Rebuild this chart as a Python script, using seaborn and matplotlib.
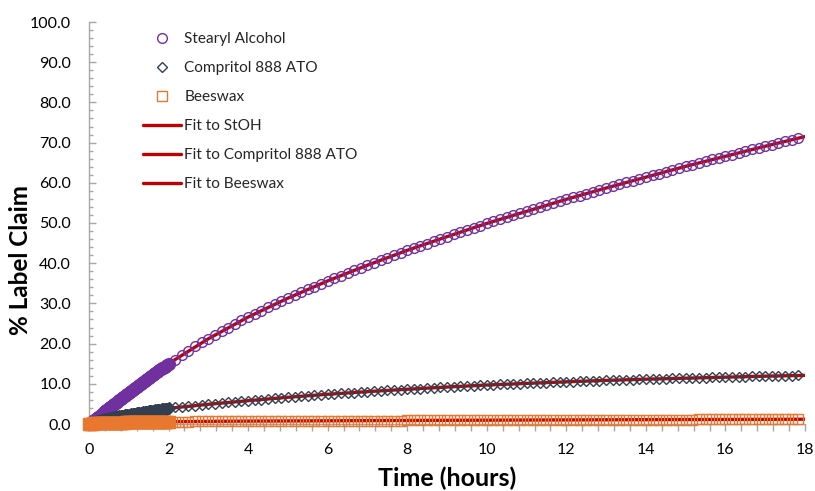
import numpy as np
import pandas as pd
import matplotlib
matplotlib.use("Agg")
import matplotlib.pyplot as plt
import seaborn as sns
from matplotlib.ticker import MultipleLocator, FormatStrFormatter

# ---------------- data ----------------
# early sampling: every 2 minutes from 0 to 2 h
t_early_min = np.arange(0, 121, 2)
# later sampling: every 10 minutes from 2 h 10 min to 17 h 50 min
t_late_min = np.arange(130, 1071, 10)
# fit curves evaluated hourly
t_fit_h = np.arange(0, 19)

stoh_early = [0.00, 0.26, 0.53, 0.79, 1.05, 1.31, 1.57, 1.83, 2.09, 2.35, 2.61, 2.87, 3.13,
              3.39, 3.64, 3.90, 4.16, 4.41, 4.67, 4.92, 5.18, 5.43, 5.69, 5.94, 6.19, 6.44,
              6.70, 6.95, 7.20, 7.45, 7.70, 7.95, 8.20, 8.45, 8.70, 8.94, 9.19, 9.44, 9.69,
              9.93, 10.18, 10.42, 10.67, 10.91, 11.16, 11.40, 11.64, 11.89, 12.13, 12.37,
              12.61, 12.85, 13.09, 13.33, 13.57, 13.81, 14.05, 14.29, 14.53, 14.76, 15.00]
stoh_late = [16.0, 17.2, 18.2, 19.3, 20.3, 21.2, 22.2, 23.1, 24.0, 24.9,
             25.8, 26.6, 27.4, 28.2, 29.0, 29.8, 30.6, 31.3, 32.1, 32.8,
             33.5, 34.2, 34.9, 35.6, 36.3, 36.9, 37.6, 38.2, 38.9, 39.5,
             40.1, 40.8, 41.4, 42.0, 42.6, 43.2, 43.8, 44.3, 44.9, 45.5,
             46.0, 46.6, 47.2, 47.7, 48.2, 48.8, 49.3, 49.9, 50.4, 50.9,
             51.4, 51.9, 52.4, 52.9, 53.4, 53.9, 54.4, 54.9, 55.4, 55.9,
             56.4, 56.8, 57.3, 57.8, 58.3, 58.7, 59.2, 59.6, 60.1, 60.5,
             61.0, 61.4, 61.9, 62.3, 62.8, 63.2, 63.6, 64.1, 64.5, 64.9,
             65.3, 65.8, 66.2, 66.6, 67.0, 67.4, 67.8, 68.3, 68.7, 69.1,
             69.5, 69.9, 70.3, 70.7, 71.1]

comp_early = [0.00, 0.18, 0.30, 0.41, 0.51, 0.60, 0.69, 0.77, 0.85, 0.93, 1.01, 1.09, 1.16,
              1.23, 1.30, 1.37, 1.44, 1.51, 1.57, 1.64, 1.70, 1.76, 1.82, 1.89, 1.95, 2.01,
              2.07, 2.13, 2.18, 2.24, 2.30, 2.36, 2.41, 2.47, 2.53, 2.59, 2.64, 2.70, 2.75,
              2.80, 2.85, 2.91, 2.96, 3.02, 3.07, 3.12, 3.17, 3.22, 3.27, 3.32, 3.37, 3.42,
              3.47, 3.52, 3.57, 3.62, 3.67, 3.72, 3.77, 3.82, 3.87]
comp_late = [4.11, 4.27, 4.43, 4.58, 4.74, 4.90,
             5.05, 5.20, 5.35, 5.50, 5.65, 5.80,
             5.94, 6.08, 6.23, 6.37, 6.51, 6.65,
             6.78, 6.90, 7.03, 7.15, 7.28, 7.40,
             7.51, 7.62, 7.73, 7.83, 7.94, 8.05,
             8.15, 8.25, 8.35, 8.45, 8.55, 8.65,
             8.74, 8.83, 8.93, 9.02, 9.11, 9.20,
             9.28, 9.37, 9.45, 9.53, 9.62, 9.70,
             9.77, 9.83, 9.90, 9.97, 10.03, 10.10,
             10.17, 10.23, 10.30, 10.37, 10.43, 10.50,
             10.56, 10.62, 10.68, 10.73, 10.79, 10.85,
             10.90, 10.95, 11.00, 11.05, 11.10, 11.15,
             11.19, 11.23, 11.28, 11.32, 11.36, 11.40,
             11.44, 11.48, 11.53, 11.57, 11.61, 11.65,
             11.69, 11.73, 11.78, 11.82, 11.86, 11.90,
             11.93, 11.97, 12.00, 12.03, 12.07]

bees_early = [0.00, 0.07, 0.10, 0.12, 0.14, 0.16, 0.17, 0.19, 0.20, 0.21, 0.23, 0.24, 0.25,
              0.26, 0.27, 0.28, 0.28, 0.29, 0.30, 0.31, 0.32, 0.33, 0.33, 0.34, 0.35, 0.36,
              0.36, 0.37, 0.38, 0.38, 0.39, 0.40, 0.40, 0.41, 0.42, 0.42, 0.43, 0.43, 0.44,
              0.44, 0.45, 0.46, 0.46, 0.47, 0.47, 0.48, 0.48, 0.49, 0.49, 0.50, 0.50, 0.51,
              0.51, 0.52, 0.52, 0.53, 0.53, 0.54, 0.54, 0.55, 0.55]
bees_late = [0.59, 0.61, 0.62, 0.63, 0.65, 0.66,
             0.67, 0.68, 0.69, 0.70, 0.71, 0.72,
             0.73, 0.73, 0.74, 0.75, 0.75, 0.76,
             0.77, 0.77, 0.78, 0.79, 0.79, 0.80,
             0.81, 0.81, 0.82, 0.83, 0.83, 0.84,
             0.85, 0.85, 0.86, 0.87, 0.87, 0.88,
             0.89, 0.89, 0.90, 0.91, 0.91, 0.92,
             0.92, 0.93, 0.93, 0.94, 0.94, 0.95,
             0.96, 0.96, 0.97, 0.98, 0.98, 0.99,
             0.99, 1.00, 1.00, 1.01, 1.01, 1.02,
             1.02, 1.03, 1.03, 1.04, 1.04, 1.05,
             1.05, 1.06, 1.06, 1.07, 1.07, 1.08,
             1.08, 1.09, 1.09, 1.10, 1.10, 1.11,
             1.11, 1.12, 1.12, 1.12, 1.13, 1.13,
             1.14, 1.14, 1.15, 1.15, 1.16, 1.16,
             1.17, 1.17, 1.18, 1.18, 1.19]

fit_stoh = [0.0, 7.7, 15.0, 21.2, 26.6, 31.3, 35.6, 39.5, 43.2, 46.6, 49.9, 52.9, 55.9,
            58.7, 61.4, 64.1, 66.6, 69.1, 71.5]
fit_comp = [0.0, 2.3, 3.9, 4.9, 5.8, 6.65, 7.4, 8.05, 8.65, 9.2, 9.7, 10.1, 10.5, 10.85,
            11.15, 11.4, 11.65, 11.9, 12.1]
fit_bees = [0.0, 0.39, 0.57, 0.66, 0.72, 0.76, 0.80, 0.84, 0.88, 0.92, 0.95, 0.99, 1.02,
            1.05, 1.08, 1.11, 1.13, 1.16, 1.19]

series_names = ["Stearyl Alcohol", "Compritol 888 ATO", "Beeswax"]
fit_names = ["Fit to StOH", "Fit to Compritol 888 ATO", "Fit to Beeswax"]
y_ticks = [0, 10, 20, 30, 40, 50, 60, 70, 80, 90, 100]
x_ticks = [0, 2, 4, 6, 8, 10, 12, 14, 16, 18]

# ---------------- styling ----------------
sns.set_theme(style="white")
plt.rcParams["font.family"] = ["Lato", "DejaVu Sans"]

colors = ["#7030A0", "#333F50", "#E8782F"]
markers = ["o", "D", "s"]
msizes = [7.0, 5.4, 6.5]
dense_sizes = [8.5, 6.6, 8.5]
fit_color = "#C00000"
axis_gray = "#A6A6A6"

fig = plt.figure(figsize=(8.15, 4.91), dpi=100)
ax = fig.add_axes([89 / 815, 1 - 424 / 491, (805 - 89) / 815, (424 - 22) / 491])

early_t = t_early_min / 60.0
late_t = t_late_min / 60.0
early_vals = [stoh_early, comp_early, bees_early]
late_vals = [stoh_late, comp_late, bees_late]

# fit lines first (markers sit on top of them, as in the reference)
for vals, name in zip([fit_stoh, fit_comp, fit_bees], fit_names):
    df_f = pd.DataFrame({"t": t_fit_h, "v": vals})
    sns.lineplot(data=df_f, x="t", y="v", ax=ax, estimator=None, sort=False,
                 color=fit_color, linewidth=2.4, zorder=2, label=name)

for i in range(3):
    df_e = pd.DataFrame({"t": early_t, "v": early_vals[i]})
    sns.lineplot(data=df_e, x="t", y="v", ax=ax, estimator=None, sort=False,
                 linestyle="", marker=markers[i], markersize=dense_sizes[i],
                 markerfacecolor=colors[i], markeredgecolor=colors[i],
                 markeredgewidth=1.0, color=colors[i], zorder=3 + i * 0.1, clip_on=False)
    df_l = pd.DataFrame({"t": late_t, "v": late_vals[i]})
    sns.lineplot(data=df_l, x="t", y="v", ax=ax, estimator=None, sort=False,
                 linestyle="", marker=markers[i], markersize=msizes[i],
                 markerfacecolor="none", markeredgecolor=colors[i],
                 markeredgewidth=1.0, color=colors[i], zorder=3 + i * 0.1,
                 label=series_names[i], clip_on=False)

ax.set_xlim(0, 18)
ax.set_ylim(0, 100)
ax.set_xticks(x_ticks)
ax.set_yticks(y_ticks)
ax.xaxis.set_minor_locator(MultipleLocator(0.4))
ax.yaxis.set_minor_locator(MultipleLocator(2))
ax.yaxis.set_major_formatter(FormatStrFormatter("%.1f"))
ax.xaxis.set_major_formatter(FormatStrFormatter("%d"))

for s in ["top", "right"]:
    ax.spines[s].set_visible(False)
for s in ["left", "bottom"]:
    ax.spines[s].set_color(axis_gray)
    ax.spines[s].set_linewidth(1.0)
ax.spines["bottom"].set_zorder(0)

ax.tick_params(axis="y", which="major", direction="in", length=5, width=1, color=axis_gray,
               labelsize=11.5, labelcolor="black", pad=13, left=True)
ax.tick_params(axis="y", which="minor", direction="in", length=3, width=1, color=axis_gray, left=True)
ax.tick_params(axis="x", which="major", direction="out", length=5, width=1, color=axis_gray,
               labelsize=11.5, labelcolor="black", pad=9, bottom=True)
ax.tick_params(axis="x", which="minor", direction="out", length=5, width=1, color=axis_gray, bottom=True)

ax.set_xlabel("Time (hours)", fontsize=18, fontweight="bold", color="black")
ax.set_ylabel("% Label Claim", fontsize=17.5, fontweight="bold", color="black")
ax.xaxis.set_label_coords(0.5, -0.107)
ax.yaxis.set_label_coords(-0.079, 0.408)

handles, labels = ax.get_legend_handles_labels()
order = series_names + fit_names
hmap = dict(zip(labels, handles))
leg = ax.legend([hmap[n] for n in order], order, loc="upper left",
                bbox_to_anchor=(54 / 716, 0.974), frameon=False, fontsize=11.1,
                handlelength=2.47, handletextpad=0.2, labelspacing=0.97,
                borderaxespad=0, borderpad=0)

fig.savefig("out.png", dpi=100)
